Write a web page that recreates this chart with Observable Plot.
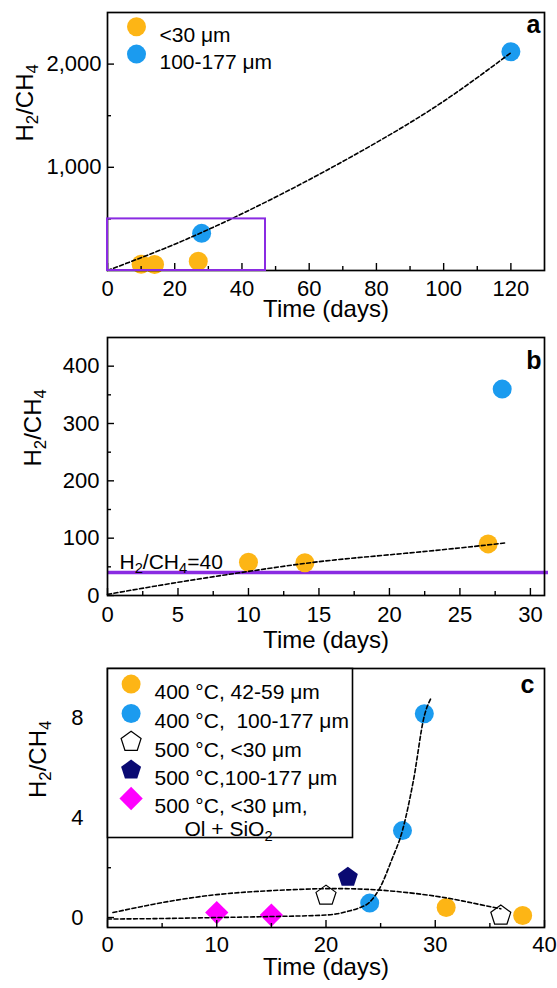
<!DOCTYPE html>
<html><head><meta charset="utf-8">
<script src="https://cdn.jsdelivr.net/npm/d3@7"></script>
<script src="https://cdn.jsdelivr.net/npm/@observablehq/plot@0.6"></script>
<style>
html,body{margin:0;padding:0;background:#fff;}
#chart{width:557px;}
#chart svg{display:block;}
</style></head><body><div id="chart"></div>
<script>
// ---------- Panel a data ----------
const aSmallDays = [10, 14, 27];
const aSmallRatio = [60, 58, 90];
const aLargeDays = [28, 120];
const aLargeRatio = [360, 2120];
const aFitDays = [0, 20, 40, 60, 80, 100, 120];
const aFitRatio = [0, 255, 550, 880, 1240, 1640, 2110];
const aBoxDays = [0, 47];
const aBoxRatio = [0, 500];
const aXTicks = [0, 20, 40, 60, 80, 100, 120];
const aXMinor = [10, 30, 50, 70, 90, 110];
const aYTicks = [1000, 2000];
const aYMinor = [500, 1500];
const aLegend = ["<30 μm", "100-177 μm"];

// ---------- Panel b data ----------
const bSmallDays = [10, 14, 27];
const bSmallRatio = [58, 57, 90];
const bLargeDays = [28];
const bLargeRatio = [360];
const bFitDays = [0, 5, 10, 15, 20, 25, 28.3];
const bFitRatio = [2, 23, 42, 59, 71, 83, 92];
const bThreshold = [40];
const bThresholdLabel = "H2/CH4=40";
const bXTicks = [0, 5, 10, 15, 20, 25, 30];
const bXMinor = [2.5, 7.5, 12.5, 17.5, 22.5, 27.5];
const bYTicks = [0, 100, 200, 300, 400];
const bYMinor = [50, 150, 250, 350];

// ---------- Panel c data ----------
const c400FineDays = [31, 38];
const c400FineRatio = [0.4, 0.08];
const c400CoarseDays = [24, 27, 29];
const c400CoarseRatio = [0.58, 3.49, 8.18];
const c500FineDays = [20, 36];
const c500FineRatio = [0.88, 0.08];
const c500CoarseDays = [22];
const c500CoarseRatio = [1.62];
const c500SiDays = [10, 15];
const c500SiRatio = [0.2, 0.1];
const cFit1Days = [0, 5, 10, 15, 20, 21, 22, 23, 24, 25, 26, 27, 28, 29, 29.6];
const cFit1Ratio = [-0.06, -0.04, 0, 0.04, 0.1, 0.15, 0.25, 0.38, 0.62, 1.25, 2.3, 3.5, 5.5, 8.1, 8.8];
const cFit2Days = [0.5, 5, 10, 15, 20, 25, 30, 33, 36];
const cFit2Ratio = [0.2, 0.6, 0.92, 1.08, 1.16, 1.1, 0.86, 0.62, 0.35];
const cXTicks = [0, 10, 20, 30, 40];
const cXMinor = [5, 15, 25, 35];
const cYTicks = [0, 4, 8];
const cYMinor = [2, 6];
const cLegend = ["400 °C, 42-59 μm", "400 °C,\u00a0 100-177 μm", "500 °C, <30 μm", "500 °C,100-177 μm", "500 °C, <30 μm,"];
const cLegendExtra = "Ol + SiO2";

// ---------- styling ----------
const ORANGE = "#FDB515", BLUE = "#1B9BEF", NAVY = "#0A0A72", MAGENTA = "#FF00FF", PURPLE = "#8A2BE2";
const FONT = "'Liberation Sans', Arial, Helvetica, sans-serif";
const W = 557, ML = 107, MR = 13;
const FW = W - ML - MR;
const TICK_FS = 22, TITLE_FS = 24, LEG_FS = 21;

const pentagon = {
  draw(context, size) {
    const R = Math.sqrt(size / Math.PI);
    for (let i = 0; i < 5; i++) {
      const a = -Math.PI / 2 + i * 2 * Math.PI / 5;
      const px = R * Math.cos(a), py = R * Math.sin(a);
      if (i === 0) context.moveTo(px, py); else context.lineTo(px, py);
    }
    context.closePath();
  }
};

const rows = (xs, ys) => xs.map((d, i) => ({days: d, ratio: ys[i]}));

function axesMarks({xMajor, xMinor, yMajor, yMinor, fh, xPad, yPad, yFmt}) {
  const st = {stroke: "black", strokeWidth: 1.4};
  return [
    Plot.ruleX(xMajor, {...st, insetTop: fh - 7}),
    Plot.ruleX(xMinor, {...st, insetTop: fh - 4}),
    Plot.ruleY(yMajor, {...st, insetRight: FW - 7}),
    Plot.ruleY(yMinor, {...st, insetRight: FW - 4}),
    Plot.axisX(xMajor, {tickSize: 0, tickPadding: xPad, fontSize: TICK_FS, label: null, tickFormat: d => String(d)}),
    Plot.axisY(yMajor, {tickSize: 0, tickPadding: yPad, fontSize: TICK_FS, label: null, tickFormat: yFmt || (d => String(d))}),
    Plot.frame({stroke: "black", strokeWidth: 1.7})
  ];
}

function titles(yDx, xDy) {
  return [
    Plot.text(["H2/CH4"], {frameAnchor: "left", dx: yDx, rotate: -90, fontSize: TITLE_FS, text: d => d}),
    Plot.text(["Time (days)"], {frameAnchor: "bottom", dy: xDy, fontSize: TITLE_FS, text: d => d})
  ];
}

function subscriptify(svg) {
  svg.querySelectorAll("text").forEach(t => {
    const s = t.textContent;
    if (!/CH4|SiO2/.test(s) || t.querySelector("tspan")) return;
    const runs = [];
    for (let i = 0; i < s.length; i++) {
      const sub = /\d/.test(s[i]) && i > 0 && /[A-Za-z]/.test(s[i - 1]);
      if (runs.length && runs[runs.length - 1].sub === sub) runs[runs.length - 1].text += s[i];
      else runs.push({text: s[i], sub});
    }
    t.textContent = "";
    let prevSub = false;
    runs.forEach(r => {
      const ts = document.createElementNS("http://www.w3.org/2000/svg", "tspan");
      ts.textContent = r.text;
      if (r.sub) { ts.setAttribute("font-size", "70%"); ts.setAttribute("dy", "0.3em"); }
      else if (prevSub) { ts.setAttribute("dy", "-0.21em"); }
      prevSub = r.sub;
      t.appendChild(ts);
    });
  });
  return svg;
}

const baseStyle = {fontFamily: FONT, fontSize: "22px", color: "black", background: "white"};
const dash = {stroke: "black", strokeWidth: 1.6, strokeDasharray: "4,2.5"};

// ---------- Panel a ----------
const aH = 325, aMT = 12, aMB = 55;
const aMarks = [
  Plot.dot(rows(aSmallDays, aSmallRatio), {x: "days", y: "ratio", r: 9.5, fill: ORANGE}),
  Plot.dot(rows(aLargeDays, aLargeRatio), {x: "days", y: "ratio", r: 9.5, fill: BLUE}),
  Plot.line(rows(aFitDays, aFitRatio), {x: "days", y: "ratio", curve: "natural", ...dash}),
  ...axesMarks({xMajor: aXTicks, xMinor: aXMinor, yMajor: aYTicks, yMinor: aYMinor, fh: aH - aMT - aMB, xPad: 10, yPad: 6, yFmt: d3.format(",")}),
  Plot.rect([{}], {x1: () => aBoxDays[0], x2: () => aBoxDays[1], y1: () => aBoxRatio[0], y2: () => aBoxRatio[1], fill: "none", stroke: PURPLE, strokeWidth: 2}),
  ...titles(-82, 46),
  Plot.text(["a"], {frameAnchor: "top-right", dx: -4, dy: 20.5, lineAnchor: "bottom", fontSize: 25, fontWeight: "bold", text: d => d})
];
aLegend.forEach((lab, i) => {
  aMarks.push(Plot.dot([lab], {frameAnchor: "top-left", dx: 29, dy: 14.3 + 27.3 * i, r: 9.5, fill: [ORANGE, BLUE][i]}));
  aMarks.push(Plot.text([lab], {frameAnchor: "top-left", dx: 52, dy: 14.3 + 27.3 * i, textAnchor: "start", fontSize: LEG_FS, text: d => d}));
});
const plotA = Plot.plot({
  width: W, height: aH, marginLeft: ML, marginRight: MR, marginTop: aMT, marginBottom: aMB,
  style: baseStyle,
  x: {domain: [0, 130]}, y: {domain: [0, 2500]},
  marks: aMarks
});

// ---------- Panel b ----------
const bH = 332, bMT = 12, bMB = 62;
const plotB = Plot.plot({
  width: W, height: bH, marginLeft: ML, marginRight: MR, marginTop: bMT, marginBottom: bMB,
  style: baseStyle,
  x: {domain: [0, 31]}, y: {domain: [0, 450]},
  marks: [
    Plot.ruleY(bThreshold, {stroke: PURPLE, strokeWidth: 3.5, insetRight: -4}),
    Plot.dot(rows(bSmallDays, bSmallRatio), {x: "days", y: "ratio", r: 9.5, fill: ORANGE}),
    Plot.dot(rows(bLargeDays, bLargeRatio), {x: "days", y: "ratio", r: 9.5, fill: BLUE}),
    Plot.line(rows(bFitDays, bFitRatio), {x: "days", y: "ratio", curve: "natural", ...dash}),
    Plot.text([bThresholdLabel], {x: () => 0, y: () => bThreshold[0], dx: 12, dy: -4, lineAnchor: "bottom", textAnchor: "start", fontSize: LEG_FS, text: d => d}),
    ...axesMarks({xMajor: bXTicks, xMinor: bXMinor, yMajor: bYTicks, yMinor: bYMinor, fh: bH - bMT - bMB, xPad: 11, yPad: 8}),
    ...titles(-74, 52),
    Plot.text(["b"], {frameAnchor: "top-right", dx: -3, dy: 31.5, lineAnchor: "bottom", fontSize: 25, fontWeight: "bold", text: d => d})
  ]
});

// ---------- Panel c ----------
const cH = 331, cMT = 11, cMB = 61;
const cSyms = [
  {symbol: "circle", fill: ORANGE, stroke: "none", r: 9.5},
  {symbol: "circle", fill: BLUE, stroke: "none", r: 9.5},
  {symbol: pentagon, fill: "white", stroke: "black", r: 10.5},
  {symbol: pentagon, fill: NAVY, stroke: "none", r: 10.5},
  {symbol: "diamond2", fill: MAGENTA, stroke: "none", r: 10.5}
];
const cSeries = [
  rows(c400FineDays, c400FineRatio),
  rows(c400CoarseDays, c400CoarseRatio),
  rows(c500FineDays, c500FineRatio),
  rows(c500CoarseDays, c500CoarseRatio),
  rows(c500SiDays, c500SiRatio)
];
const cMarks = [];
cSeries.forEach((s, i) => cMarks.push(Plot.dot(s, {x: "days", y: "ratio", ...cSyms[i], strokeWidth: 1.2})));
cMarks.push(
  Plot.line(rows(cFit1Days, cFit1Ratio), {x: "days", y: "ratio", curve: "monotone-x", ...dash}),
  Plot.line(rows(cFit2Days, cFit2Ratio), {x: "days", y: "ratio", curve: "natural", ...dash}),
  ...axesMarks({xMajor: cXTicks, xMinor: cXMinor, yMajor: cYTicks, yMinor: cYMinor, fh: cH - cMT - cMB, xPad: 9, yPad: 24}),
  Plot.frame({stroke: "black", strokeWidth: 1.6, fill: "white", insetRight: 192, insetBottom: 90}),
  ...titles(-69, 47),
  Plot.text(["c"], {frameAnchor: "top-right", dx: -10, dy: 24, lineAnchor: "bottom", fontSize: 25, fontWeight: "bold", text: d => d})
);
const cRowY = [15.6, 45, 73.3, 101.6, 130];
cLegend.forEach((lab, i) => {
  cMarks.push(Plot.dot([lab], {frameAnchor: "top-left", dx: 23.6, dy: cRowY[i], ...cSyms[i], strokeWidth: 1.2}));
  cMarks.push(Plot.text([lab], {frameAnchor: "top-left", dx: 47, dy: cRowY[i], textAnchor: "start", fontSize: LEG_FS, text: d => d}));
});
cMarks.push(Plot.text([cLegendExtra], {frameAnchor: "top-left", dx: 77, dy: 153, textAnchor: "start", fontSize: LEG_FS, text: d => d}));
const plotC = Plot.plot({
  width: W, height: cH, marginLeft: ML, marginRight: MR, marginTop: cMT, marginBottom: cMB,
  style: baseStyle,
  x: {domain: [0, 40]}, y: {domain: [-0.4, 10]},
  marks: cMarks
});

const chart = document.getElementById("chart");
[plotA, plotB, plotC].forEach(p => chart.appendChild(subscriptify(p)));
</script></body></html>
